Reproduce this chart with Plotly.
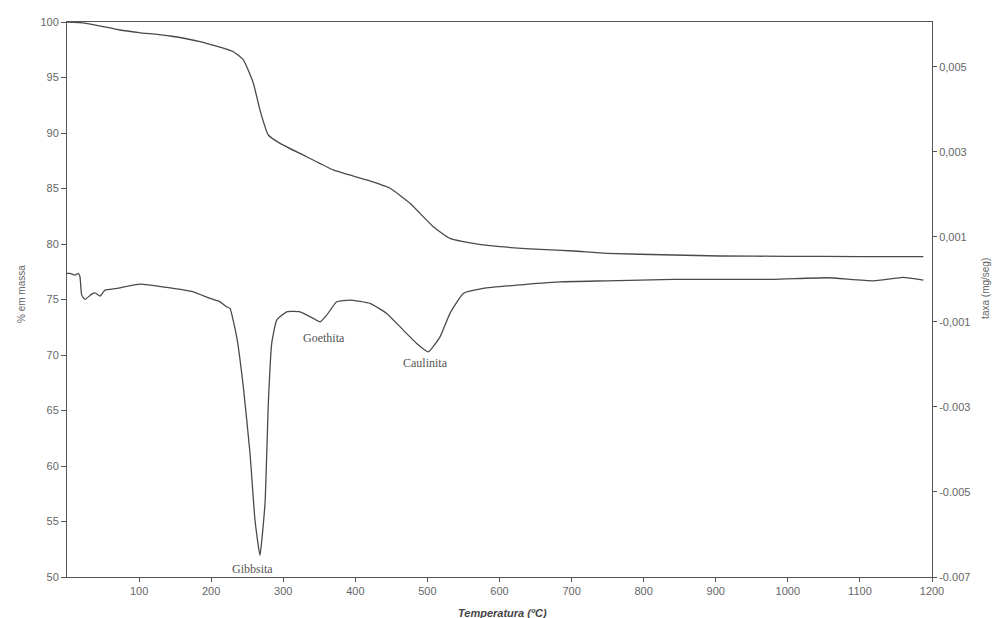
import plotly.graph_objects as go

# TG curve: temperature (ºC) vs % mass
tg_temp = [0, 25, 73.5, 100, 143, 184.5, 230.7, 244.6, 258.5, 267.7, 279.3, 295.5,
           332.5, 369.4, 415.8, 448.1, 475.8, 508.2, 531.3, 563.7, 600.7, 656.2,
           702.4, 748.7, 841.1, 905.9, 1000, 1100, 1188]
tg_mass = [100.0, 99.9, 99.28, 99.05, 98.74, 98.23, 97.32, 96.58, 94.48, 92.07, 89.82, 89.07,
           87.86, 86.67, 85.77, 85.02, 83.67, 81.56, 80.51, 80.06, 79.76, 79.52,
           79.37, 79.16, 79.01, 78.92, 78.89, 78.87, 78.86]

# DTG curve: temperature (ºC) vs rate (mg/seg)
dtg_temp = [0, 4.2, 11.1, 15.7, 18.0, 20.4, 25.0, 34.3, 38.8, 45.8, 52.7, 68.9, 101.3,
            138.3, 175.2, 198.4, 212.3, 221.5, 226.1, 235.4, 244.6, 253.9, 260.8, 267.7,
            274.7, 279.3, 284.0, 290.9, 304.8, 323.2, 341.7, 351.0, 360.3, 374.2, 392.6,
            420.3, 443.5, 466.5, 485.1, 501.2, 517.5, 531.3, 549.8, 577.5, 623.9, 683.9,
            748.7, 841.1, 979.8, 1053.9, 1118.6, 1160.2, 1188]
dtg_rate = [0.00014, 0.000139, 0.000099, 0.000139, 0.000059, -0.000372, -0.000473, -0.000348,
            -0.000317, -0.000395, -0.000254, -0.000214, -0.000113, -0.00019, -0.000294,
            -0.000449, -0.000529, -0.000647, -0.000684, -0.001353, -0.002529, -0.004096,
            -0.005666, -0.006489, -0.005273, -0.00292, -0.001508, -0.00096, -0.000764,
            -0.000764, -0.00092, -0.001, -0.000842, -0.000529, -0.000489, -0.000567,
            -0.000802, -0.001195, -0.001508, -0.001706, -0.001353, -0.000802, -0.000332,
            -0.000214, -0.000136, -0.000059, -0.000035, -0.000002, -0.000002, 0.000036,
            -0.000035, 0.000044, -0.000019]

x_ticks = [100, 200, 300, 400, 500, 600, 700, 800, 900, 1000, 1100, 1200]
y_ticks = [50, 55, 60, 65, 70, 75, 80, 85, 90, 95, 100]
y2_ticks = [0.005, 0.003, 0.001, -0.001, -0.003, -0.005, -0.007]
y2_labels = ["0,005", "0,003", "0,001", "-0,001", "-0.003", "-0.005", "-0.007"]

peak_names = ["Gibbsita", "Goethita", "Caulinita"]
peak_temp = [257, 356, 497]
peak_level = [50.7, 71.5, 69.3]

line_col = "#4a4a4a"
axis_col = "#555555"
tick_font = dict(family="Liberation Sans Narrow, Liberation Sans, Arial", size=11, color="#666666")

fig = go.Figure()
fig.add_trace(go.Scatter(x=tg_temp, y=tg_mass, mode="lines",
                         line=dict(color=line_col, width=1.3, shape="spline", smoothing=0.5),
                         showlegend=False))
fig.add_trace(go.Scatter(x=dtg_temp, y=dtg_rate, mode="lines", yaxis="y2",
                         line=dict(color=line_col, width=1.3, shape="spline", smoothing=0.4),
                         showlegend=False))

for name, t, lv in zip(peak_names, peak_temp, peak_level):
    fig.add_annotation(x=t, y=lv, xref="x", yref="y", text=name, showarrow=False,
                       font=dict(family="Liberation Serif, Times New Roman", size=12, color="#555555"))

fig.add_annotation(xref="paper", yref="paper", x=-0.0606, y=0.51, text="% em massa",
                   textangle=-90, showarrow=False,
                   font=dict(family="Liberation Sans, Arial", size=10, color="#666666"))
fig.add_annotation(xref="paper", yref="paper", x=1.0705, y=0.52, text="taxa (mg/seg)",
                   textangle=-90, showarrow=False,
                   font=dict(family="Liberation Sans, Arial", size=10, color="#666666"))
fig.add_annotation(xref="paper", yref="paper", x=0.503, y=-0.05, yanchor="top",
                   text="<b><i>Temperatura (ºC)</i></b>", showarrow=False,
                   font=dict(family="Liberation Sans, Arial", size=11, color="#444444"))

fig.update_layout(
    width=1003, height=618,
    margin=dict(l=67, r=71, t=22, b=41),
    plot_bgcolor="white", paper_bgcolor="white",
    xaxis=dict(range=[0, 1200], tickvals=x_ticks, ticktext=[str(v) for v in x_ticks],
               showgrid=False, zeroline=False, showline=True, linecolor=axis_col, linewidth=1,
               mirror=True, ticks="outside", ticklen=4, tickcolor=axis_col, tickfont=tick_font),
    yaxis=dict(range=[50, 100], tickvals=y_ticks, showgrid=False, zeroline=False,
               showline=True, linecolor=axis_col, linewidth=1, ticks="outside", ticklen=5,
               tickcolor=axis_col, tickfont=tick_font),
    yaxis2=dict(range=[-0.007, 0.00605], overlaying="y", side="right", tickvals=y2_ticks,
                ticktext=y2_labels, showgrid=False, zeroline=False, showline=True,
                linecolor=axis_col, linewidth=1, ticks="outside", ticklen=4,
                tickcolor=axis_col, tickfont=tick_font),
)

fig.write_html("out.html")
